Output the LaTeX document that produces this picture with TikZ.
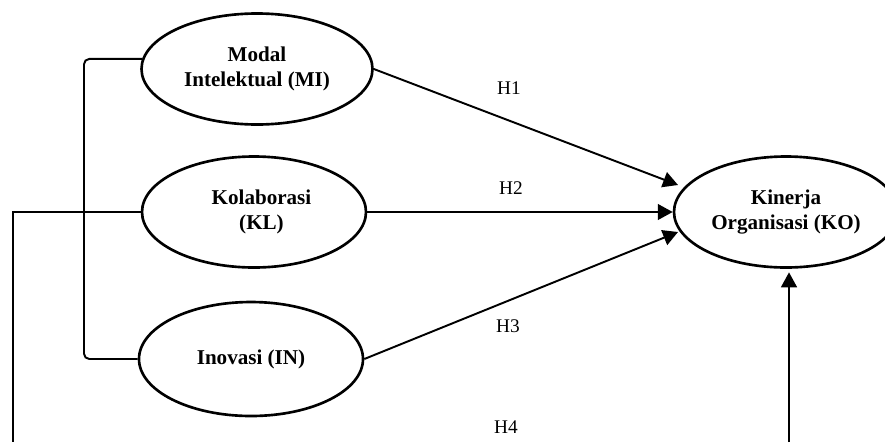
\documentclass[tikz,border=0pt]{standalone}
\usepackage{fontspec}
\setmainfont{Liberation Serif}
\usepackage{tikz}
\usetikzlibrary{arrows.meta}
\usetikzlibrary{shapes.geometric}

\begin{document}
\begin{tikzpicture}[x=0.2mm,y=-0.2mm,
    construct/.style={draw, ellipse, line width=1.5pt, align=center, inner sep=0pt,
      minimum width=44.8mm, minimum height=22.2mm,
      font=\bfseries\fontsize{12}{14.2}\selectfont},
    link/.style={line width=1.1pt},
    hyp/.style={link, -{Triangle[length=8.5pt,width=9pt]}},
    hlabel/.style={font=\fontsize{11}{13}\selectfont}]
    \useasboundingbox (0,0) rectangle (885,442);

    % Constructs
    \node[construct, minimum width=46.2mm] (mi) at (257,69) {Modal\\Intelektual (MI)};
    \node[construct] (kl) at (254,212) {\hspace*{3mm}Kolaborasi\\\hspace*{3mm}(KL)};
    \node[construct, minimum height=22.8mm] (in) at (251,359) {Inovasi (IN)};
    \node[construct] (ko) at (786,212) {Kinerja\\Organisasi (KO)};

    % Free ends at the bottom edge
    \coordinate (bl) at (13,442);
    \coordinate (br) at (789,442);
    \coordinate (brk) at (84,0);
    \coordinate (t1) at (678,185);
    \coordinate (t3) at (678,232);

    % Hypotheses
    \draw[hyp] (mi.east) -- (t1);
    \draw[hyp] (kl.east) -- (kl.east -| ko.west);
    \draw[hyp] (in.east) -- (t3);
    \draw[hyp, shorten >=2pt] (br) -- (br |- ko.south);

    % Lines on the left
    \draw[link, rounded corners=3pt] (mi.175) -- (mi.175 -| brk) -- (in.west -| brk) -- (in.west);
    \draw[link] (kl.west) -| (bl);

    \node[hlabel] (h1) at (509,88) {H1};
    \node[hlabel] (h2) at (511,188) {H2};
    \node[hlabel] (h3) at (508,326) {H3};
    \node[hlabel] (h4) at (506,427) {H4};
\end{tikzpicture}
\end{document}
